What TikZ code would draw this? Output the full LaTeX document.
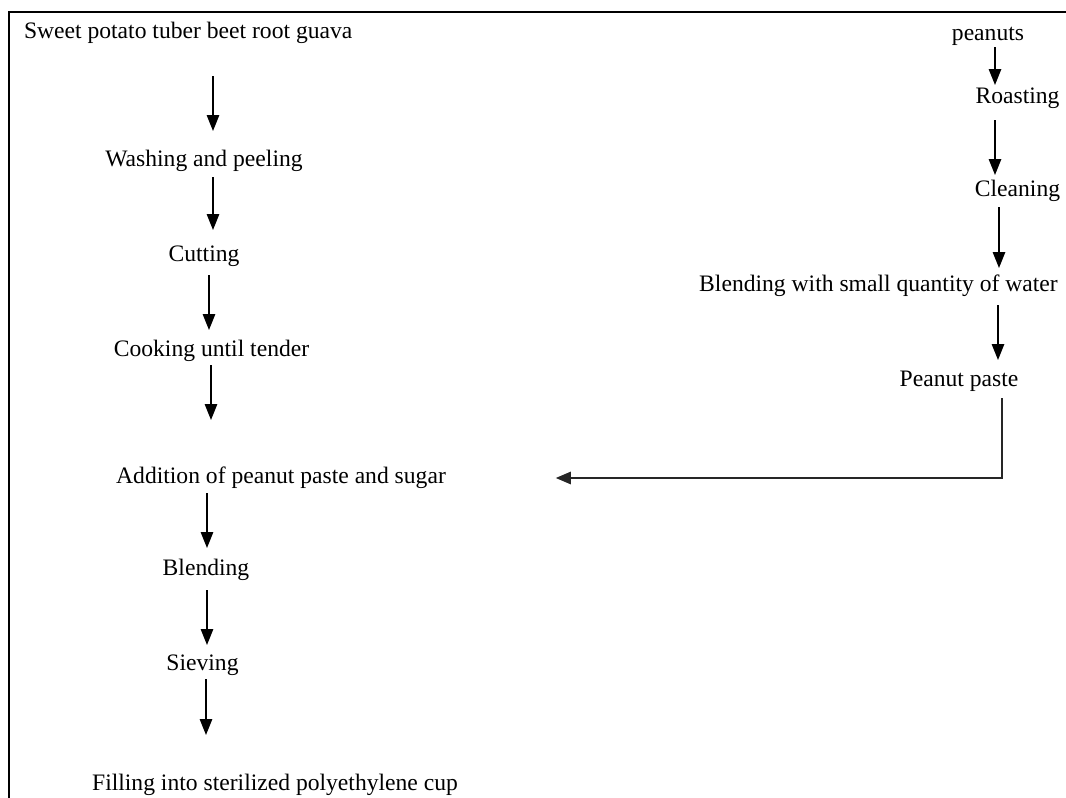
\documentclass[tikz,border=0pt]{standalone}
\usepackage{fontspec}
\setmainfont{Liberation Serif}
\usetikzlibrary{arrows.meta,calc}
\begin{document}
\begin{tikzpicture}[x=1pt,y=-1pt,
  lbl/.style={inner sep=0pt,outer sep=0pt,text height=19pt,text depth=2pt,font=\fontsize{23.6}{28}\selectfont},
  arr/.style={line width=1.4pt,-{Triangle[width=12.5pt,length=16pt]}},
  elbow/.style={line width=1.2pt,draw=black!85,-{Triangle[width=12.5pt,length=15pt]}},
  frame/.style={line width=2pt}]
\useasboundingbox (0,0) rectangle (1066,798);
\draw[frame] (9,798) -- (9,12) -- (1066,12);
% left column
\node[lbl,anchor=west] (sweet) at (24,30) {Sweet potato tuber beet root guava};
\node[lbl] (wash) at (204,158) {Washing and peeling};
\node[lbl] (cut) at (204,253) {Cutting};
\node[lbl] (cook) at (211.5,348) {Cooking until tender};
\node[lbl] (add) at (281,475) {Addition of peanut paste and sugar};
\node[lbl] (blend) at (206,567) {Blending};
\node[lbl] (sieve) at (202.5,662) {Sieving};
\node[lbl] (fill) at (275,782) {Filling into sterilized polyethylene cup};
% right column
\node[lbl] (pea) at (988,32) {peanuts};
\node[lbl] (roast) at (1017.5,95) {Roasting};
\node[lbl] (clean) at (1017.5,188) {Cleaning};
\node[lbl] (bwater) at (878.5,283) {Blending with small quantity of water};
\node[lbl] (paste) at (959,378) {Peanut paste};
% left arrows
\draw[arr] ($(sweet.south west)+(189,35.5)$) -- ($(wash.north)+(9,-16.5)$);
\draw[arr] ($(wash.south)+(9,8.5)$) -- ($(cut.north)+(9,-12.5)$);
\draw[arr] ($(cut.south)+(5,11.5)$) -- ($(cook.north)+(-2.5,-7.5)$);
\draw[arr] ($(cook.south)+(-0.5,6.5)$) -- ($(add.north)+(-70,-44.5)$);
\draw[arr] ($(add.south)+(-74,7.5)$) -- ($(blend.north)+(1,-8.5)$);
\draw[arr] ($(blend.south)+(1,12.5)$) -- ($(sieve.north)+(4.5,-6.5)$);
\draw[arr] ($(sieve.south)+(3.5,6.5)$) -- ($(fill.north)+(-69,-36.5)$);
% right arrows
\draw[arr] ($(pea.south)+(7,4.5)$) -- ($(roast.north)+(-22.5,0.5)$);
\draw[arr] ($(roast.south)+(-22.5,14.5)$) -- ($(clean.north)+(-22.5,-2.5)$);
\draw[arr] ($(clean.south)+(-18.5,8.5)$) -- ($(bwater.north)+(120.5,-4.5)$);
\draw[arr] ($(bwater.south)+(119.5,11.5)$) -- ($(paste.north)+(39,-7.5)$);
\draw[elbow] ($(paste.south)+(43,9.5)$) |- ($(add.east)+(110,3)$);
\end{tikzpicture}
\end{document}
